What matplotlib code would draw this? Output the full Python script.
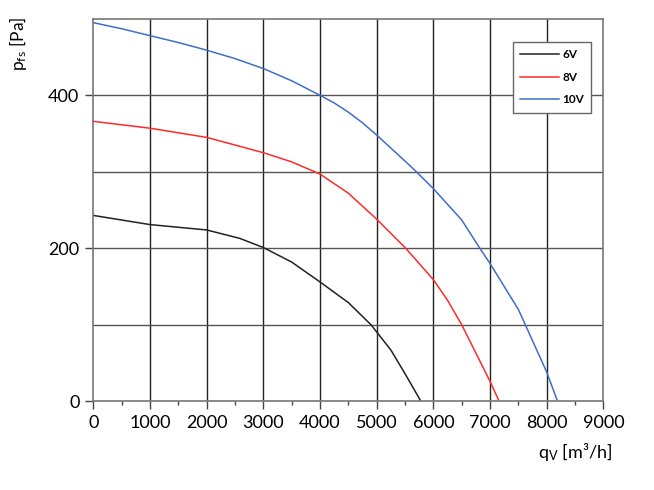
import numpy as np
import matplotlib
matplotlib.use("Agg")
import matplotlib.pyplot as plt
from matplotlib.ticker import MultipleLocator

plt.rcParams['font.family'] = ['Lato', 'DejaVu Sans']
plt.rcParams['mathtext.fontset'] = 'custom'
plt.rcParams['mathtext.rm'] = 'Lato'
plt.rcParams['mathtext.it'] = 'Lato'

# curves: airflow [m3/h] vs pressure [Pa]
q_6v = [0, 1000, 2000, 2583, 3000, 3500, 4000, 4500, 4900, 5250, 5500, 5780]
p_6v = [243, 231, 224, 213, 201, 182, 156, 129, 100, 67, 36, 0]

q_8v = [0, 1000, 2000, 3000, 3500, 4000, 4500, 5000, 5500, 6000, 6250,
        6500, 6750, 7000, 7160]
p_8v = [366, 357, 345, 325, 313, 297, 272, 238, 201, 159, 132,
        100, 63, 26, 0]

q_10v = [0, 500, 1000, 1500, 2000, 2500, 3000, 3500, 4000, 4250, 4500, 4750,
         5000, 5500, 5700, 6000, 6500, 6820, 7000, 7500, 8000, 8190]
p_10v = [495, 487, 478, 469, 459, 448, 435, 419, 400, 390, 378, 364,
         348, 314, 300, 278, 237, 200, 180, 120, 38, 0]

x_ticks = [0, 1000, 2000, 3000, 4000, 5000, 6000, 7000, 8000, 9000]
y_ticks = [0, 200, 400]

fig = plt.figure(figsize=(6.54, 4.9), dpi=100)
ax = fig.add_axes([0.1427, 0.181, 0.78, 0.7806])

ax.plot(q_6v, p_6v, color='#222222', lw=1.1, label='6V')
ax.plot(q_8v, p_8v, color='#ff2a2a', lw=1.1, label='8V')
ax.plot(q_10v, p_10v, color='#3f6fc4', lw=1.1, label='10V')

ax.set_xlim(0, 9000)
ax.set_ylim(0, 500)
ax.set_xticks(x_ticks)
ax.set_yticks(y_ticks)
ax.xaxis.set_minor_locator(MultipleLocator(500))

# grid: every 1000 on x, every 100 on y
for xv in range(1000, 9000, 1000):
    ax.axvline(xv, color='#222222', lw=1.0, zorder=0)
for yv in range(100, 500, 100):
    ax.axhline(yv, color='#555555', lw=1.0, zorder=0)

for s in ax.spines.values():
    s.set_color('#777777')
    s.set_linewidth(1.2)

ax.tick_params(axis='both', which='major', length=6, width=1.0, color='#444444',
               labelsize=13, pad=4)
ax.tick_params(axis='x', which='minor', length=3, width=1.0, color='#444444')

fig.text(0.027, 0.91, r'p$_{\mathrm{fs}}$ [Pa]', rotation=90, fontsize=12.5,
         ha='center', va='center')
fig.text(0.936, 0.078, r'q$_{\mathrm{V}}$ [m³/h]', fontsize=13,
         ha='right', va='center')

leg = ax.legend(loc='upper left', bbox_to_anchor=(0.822, 0.94), fontsize=8.5,
                frameon=True, fancybox=False, handlelength=3.3, handletextpad=0.3,
                borderpad=0.6, labelspacing=1.0, borderaxespad=0)
leg.get_frame().set_edgecolor('#666666')
leg.get_frame().set_linewidth(1.0)
leg.get_frame().set_alpha(1)
for t in leg.get_texts():
    t.set_fontweight('bold')

fig.savefig('out.png', dpi=100)
